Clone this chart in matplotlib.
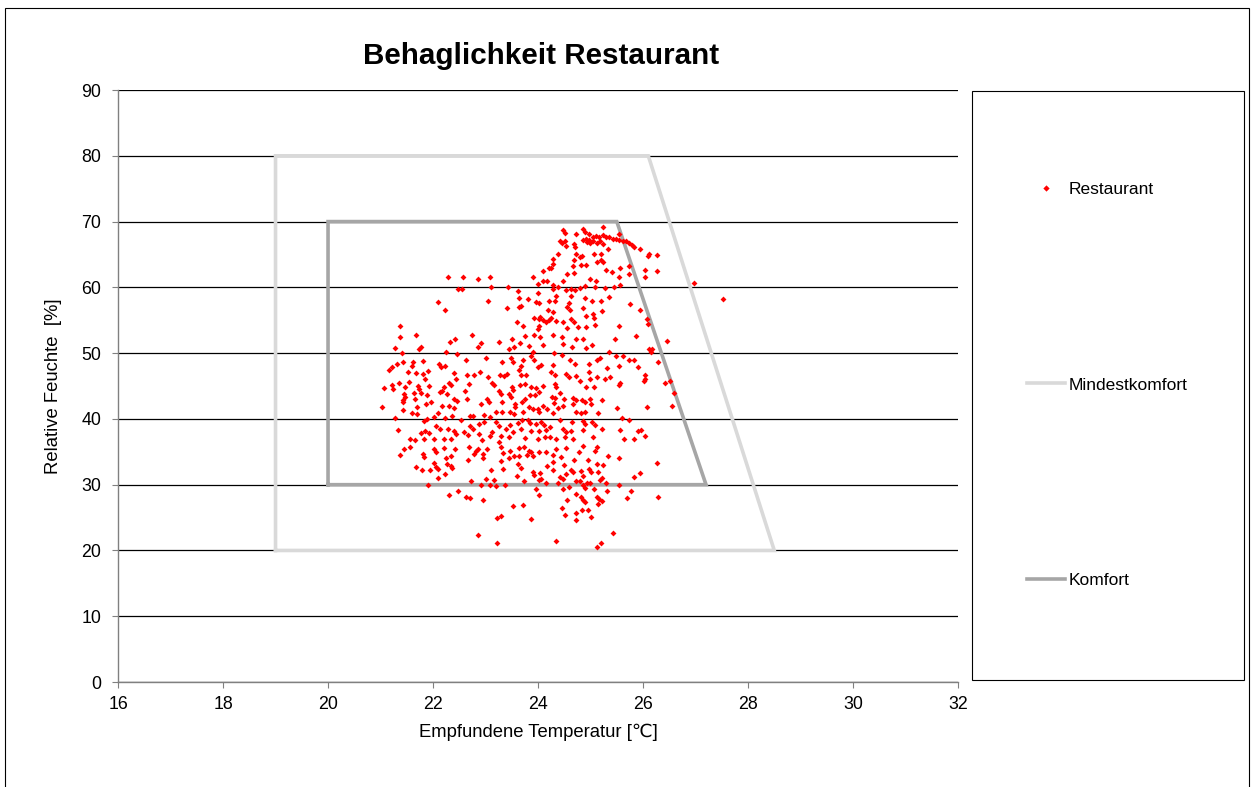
import matplotlib.pyplot as plt
from matplotlib.patches import Rectangle
from matplotlib.lines import Line2D

plt.rcParams['font.family'] = ['Liberation Sans', 'DejaVu Sans']

# comfort zones (temperature, relative humidity)
mindest_t = [19.0, 19.0, 26.1, 28.5, 19.0]
mindest_rh = [20, 80, 80, 20, 20]
komfort_t = [20.0, 20.0, 25.5, 27.2, 20.0]
komfort_rh = [30, 70, 70, 30, 30]

# measured values in the restaurant
restaurant_t = [
    22.29, 22.48, 22.10, 22.22, 21.37,
    22.57, 22.55, 22.85, 23.08, 23.11, 23.05, 23.43, 23.62, 23.64, 23.40, 23.63, 23.68,
    23.81, 23.91, 24.00, 24.09, 24.10, 24.18, 24.21, 23.97, 24.02, 24.00, 24.21, 24.19,
    23.92, 24.04, 24.01, 24.09, 24.15, 23.60, 23.72, 24.01, 23.99, 24.20,
    24.48, 24.51, 24.41, 24.46, 24.51, 24.53, 24.38, 24.72, 24.86, 24.89, 24.97, 25.24,
    24.69, 24.70, 24.91, 24.98, 25.04, 25.10, 25.17, 25.23, 25.30, 25.36, 25.42, 25.49,
    25.55, 25.61, 25.68, 25.74, 25.79, 25.83, 24.99, 25.12, 25.18, 25.24, 24.93, 25.05,
    24.85, 25.55, 24.72, 24.69, 24.79, 24.84, 25.07, 25.19, 25.19, 25.13, 25.24, 25.33,
    25.57, 25.73, 25.40, 25.30, 24.91, 24.81, 24.67, 24.29, 24.28, 24.25, 24.56, 24.69,
    24.47, 24.99, 25.10, 25.54, 25.73, 24.29, 24.38, 24.28, 24.54, 24.62, 24.70, 24.80,
    24.89, 25.09, 25.28, 25.45, 25.57, 24.34, 24.63, 24.89, 25.03, 25.19, 25.35, 25.75,
    24.32, 24.56, 24.61, 24.59, 24.85, 24.91, 25.04, 25.07, 25.22, 24.29, 24.25, 24.35,
    24.48, 24.63, 24.69, 24.76, 24.56, 24.91, 25.09, 25.54,
    25.94, 26.10, 26.12, 26.26, 26.04, 26.27, 26.03, 26.97, 27.53, 26.07, 26.10, 25.94,
    21.37, 21.68, 21.28, 21.73, 21.78, 21.41, 22.32, 22.41, 22.25, 22.46, 21.17, 21.21,
    21.32, 21.42, 21.62, 21.59, 21.80, 22.11, 22.15, 22.23, 21.52, 21.68, 21.80, 21.90,
    21.85, 22.39, 22.44, 21.07, 21.21, 21.24, 21.36, 21.46, 21.55, 21.71, 21.74, 21.92,
    21.64, 21.78, 21.45, 21.42, 21.43, 21.46, 21.66, 21.89, 22.13, 22.21, 22.18, 22.30,
    22.35, 22.27, 22.39, 22.46, 21.97, 21.87, 21.69, 22.17, 22.31, 22.40, 21.02, 21.43,
    21.60, 21.69, 21.83, 21.89, 22.01, 22.10, 21.28, 22.23, 22.37, 21.34, 21.77, 21.84,
    21.92, 22.05, 22.13, 22.29, 22.39, 22.44, 21.56, 21.65, 21.83, 22.01, 22.20, 22.35,
    21.45, 21.56, 21.38, 21.80, 21.83, 22.01, 22.05, 22.21, 22.41, 22.34, 22.25, 21.68,
    21.79, 21.94, 22.01, 22.06, 22.10, 22.27, 22.35, 22.37, 22.23, 22.10, 21.90, 22.30,
    22.48,
    22.68, 22.82, 22.78, 22.86, 22.67, 22.96, 22.96, 23.03, 23.30, 23.30, 23.34, 23.47,
    23.44, 23.55, 23.63, 23.64, 23.73, 23.82, 23.79, 23.86, 23.91, 24.01, 24.15, 24.18,
    23.62, 23.67, 23.91, 23.92, 24.04, 24.06, 23.34, 23.10, 23.60, 23.01, 22.73, 22.91,
    23.09, 23.17, 23.19, 23.38, 23.73, 24.02, 24.15, 23.97, 24.01, 22.63, 22.70, 22.96,
    23.52, 23.72, 23.30, 23.22, 23.87, 22.86, 23.21,
    24.34, 24.53, 24.85, 25.12, 25.09, 24.78, 24.29, 24.43, 24.28, 24.50, 24.69, 24.95,
    25.12, 25.24, 25.33, 25.55, 24.28, 24.62, 24.67, 24.81, 24.98, 25.00, 25.14, 24.41,
    24.53, 24.48, 24.86, 25.21, 25.18, 24.38, 24.59, 24.48, 24.73, 24.80, 24.85, 24.93,
    24.99, 24.90, 25.07, 25.30, 25.55, 25.82, 24.73, 24.82, 24.86, 24.89, 25.12, 25.17,
    25.21, 25.14, 25.32, 25.70, 25.78, 24.56, 24.45, 24.52, 24.72, 24.84, 24.95, 24.73,
    25.00, 25.43, 24.34, 25.19, 25.13,
    26.27, 25.95, 26.29,
    26.45, 26.11, 26.17, 26.16, 26.29, 26.04, 26.03, 26.01, 26.41, 26.51, 26.59, 26.07,
    26.55, 25.97, 26.03,
    22.74, 22.91, 22.86, 23.26, 23.50, 23.45, 23.55, 23.66, 23.76, 23.82, 23.92, 24.04,
    24.09, 23.91, 22.63, 23.01, 23.31, 23.48, 23.52, 23.68, 23.63, 23.72, 23.86, 23.92,
    24.00, 24.06, 22.65, 22.78, 22.90, 23.05, 23.12, 23.17, 23.28, 23.35, 23.40, 23.67,
    23.78, 22.68, 23.50, 23.53, 23.66, 23.76, 23.86, 23.96, 24.09, 24.01, 23.94, 23.85,
    22.60, 23.26, 23.29, 23.44, 23.48, 22.65, 23.02, 23.07, 22.92, 23.32, 23.69, 23.76,
    23.57, 23.57, 23.82, 23.90, 23.99, 24.01, 24.10, 24.18, 23.19, 23.32, 23.47, 23.55,
    23.72, 22.70, 22.77, 22.98, 23.09, 22.54, 22.70, 22.77, 22.88, 22.98, 23.19, 23.26,
    23.39, 23.47, 23.62, 23.69, 23.80, 23.85, 23.96, 24.06, 24.11, 24.15, 24.01, 23.86,
    23.67, 23.52, 23.12, 22.59, 22.67, 22.87, 23.09, 23.30, 23.44, 23.76, 23.99, 24.13,
    22.93, 23.26,
    24.29, 24.46, 24.72, 24.86, 25.47, 25.87, 24.48, 24.65, 24.91, 25.03, 24.30, 24.46,
    24.61, 24.70, 24.98, 25.12, 25.18, 25.35, 25.49, 25.62, 25.74, 25.82, 25.90, 25.54,
    25.31, 24.97, 24.28, 24.25, 24.33, 24.53, 24.59, 24.72, 24.99, 25.13, 25.27, 25.38,
    24.79, 24.33, 24.34, 24.91, 25.07, 25.56, 25.54, 24.42, 24.27, 24.33, 24.50, 24.66,
    24.73, 24.84, 24.90, 24.99, 25.22, 24.30, 24.48, 24.38, 24.66, 24.72, 24.81, 24.90,
    25.01, 25.15, 25.50, 24.28, 24.42, 24.65, 24.85, 24.89, 25.03, 25.08, 25.21, 25.60,
    25.73, 24.23, 24.48, 24.54, 24.63, 24.51, 24.86, 25.05, 24.67, 25.57, 25.64, 25.82,
    25.90, 24.23, 24.34,
]
restaurant_rh = [
    61.5, 59.7, 57.8, 56.6, 54.1,
    61.5, 59.7, 61.2, 61.5, 60.0, 58.0, 60.0, 59.5, 58.4, 56.9, 57.0, 57.1,
    58.3, 61.5, 60.5, 62.5, 61.0, 60.9, 63.0, 57.8, 57.6, 59.2, 57.9, 56.6,
    55.3, 55.5, 55.2, 55.1, 54.8, 54.7, 54.1, 54.2, 53.6, 55.0,
    68.7, 68.2, 67.1, 66.7, 67.0, 66.3, 65.0, 68.1, 68.9, 68.4, 68.1, 69.2,
    66.6, 66.2, 67.4, 67.2, 67.6, 67.8, 67.7, 67.9, 67.7, 67.6, 67.4, 67.3,
    67.2, 67.1, 67.0, 66.8, 66.5, 66.2, 66.7, 66.7, 67.0, 66.6, 66.9, 67.1,
    67.2, 68.1, 65.0, 64.1, 64.6, 64.7, 65.0, 65.0, 64.2, 63.9, 63.9, 65.9,
    63.0, 63.2, 62.4, 62.6, 63.4, 63.4, 63.3, 64.3, 63.6, 63.0, 62.1, 62.2,
    61.0, 61.3, 60.9, 61.5, 62.0, 60.3, 60.1, 59.8, 59.6, 59.7, 59.6, 59.9,
    60.2, 60.1, 59.9, 60.0, 60.3, 58.7, 58.7, 58.4, 58.0, 57.9, 58.6, 57.4,
    57.9, 57.0, 56.6, 57.6, 56.8, 55.7, 55.9, 55.3, 56.4, 56.3, 55.4, 54.9,
    54.7, 55.2, 54.7, 54.0, 53.8, 53.9, 54.3, 54.1,
    65.8, 64.8, 65.0, 64.9, 62.7, 62.5, 61.5, 60.6, 58.2, 55.2, 54.4, 56.5,
    52.4, 52.7, 50.8, 50.7, 50.9, 50.0, 51.7, 52.2, 50.1, 49.9, 47.5, 47.9,
    48.4, 48.6, 48.7, 48.0, 48.8, 48.3, 47.9, 48.1, 47.1, 47.0, 46.9, 47.3,
    46.0, 47.0, 46.1, 44.7, 45.2, 44.5, 45.4, 44.9, 45.6, 45.0, 44.6, 45.0,
    44.0, 43.9, 43.8, 42.9, 42.5, 43.3, 43.1, 43.6, 44.1, 44.8, 44.2, 45.4,
    45.1, 43.8, 43.1, 42.7, 42.5, 42.2, 41.8, 42.0, 42.0, 41.7, 41.8, 41.3,
    40.9, 40.8, 39.7, 40.0, 40.3, 40.9, 40.1, 40.2, 40.5, 38.3, 37.9, 38.2,
    37.8, 38.9, 38.5, 38.4, 38.2, 37.7, 37.0, 36.8, 37.0, 37.0, 37.0, 36.9,
    35.5, 35.7, 34.5, 34.7, 34.2, 35.4, 35.0, 35.6, 35.4, 34.3, 34.1, 32.7,
    32.2, 32.3, 33.3, 32.7, 32.4, 33.1, 32.9, 32.6, 31.6, 31.0, 30.0, 28.4,
    29.1,
    35.8, 35.1, 34.6, 35.5, 33.8, 34.6, 34.1, 35.4, 35.8, 33.6, 34.8, 35.1,
    34.1, 34.3, 34.3, 35.6, 35.7, 35.1, 34.5, 35.0, 34.4, 35.0, 35.0, 32.8,
    33.1, 32.6, 31.9, 31.5, 31.8, 30.9, 32.4, 32.3, 31.3, 30.9, 30.5, 30.0,
    30.0, 30.7, 29.8, 30.0, 30.5, 30.7, 30.2, 29.3, 28.5, 28.1, 27.9, 27.6,
    26.8, 26.9, 25.3, 25.0, 24.8, 22.3, 21.1,
    35.5, 35.6, 35.9, 35.8, 35.1, 35.0, 34.5, 34.2, 33.5, 33.0, 33.8, 33.7,
    33.2, 33.0, 34.4, 34.1, 32.2, 32.3, 32.0, 32.1, 32.4, 31.9, 32.0, 31.2,
    31.6, 30.9, 31.3, 31.0, 30.7, 30.2, 29.6, 29.4, 30.5, 30.6, 30.0, 30.3,
    30.2, 29.5, 29.3, 30.3, 29.9, 31.1, 28.6, 28.1, 27.6, 27.3, 28.1, 27.8,
    27.5, 27.0, 29.0, 28.0, 29.1, 27.7, 26.5, 25.4, 25.7, 26.2, 26.1, 24.7,
    25.1, 22.7, 21.5, 21.2, 20.6,
    33.3, 31.8, 28.1,
    51.8, 50.6, 50.6, 50.2, 48.7, 46.7, 46.0, 45.7, 45.4, 45.8, 43.9, 41.8,
    41.9, 38.3, 37.4,
    52.7, 51.5, 50.9, 51.7, 52.1, 50.7, 50.9, 51.5, 52.6, 51.1, 52.8, 52.5,
    51.2, 50.2, 48.9, 49.2, 48.6, 49.2, 48.6, 48.1, 47.5, 48.9, 49.5, 48.9,
    47.9, 48.2, 46.7, 46.7, 47.1, 46.4, 45.5, 45.1, 46.6, 46.5, 46.9, 46.7,
    46.6, 45.3, 44.9, 44.4, 45.2, 45.3, 44.8, 44.7, 45.0, 44.1, 43.6, 43.7,
    44.2, 44.2, 43.8, 43.8, 43.3, 43.0, 43.1, 42.5, 42.3, 42.6, 42.6, 43.1,
    42.3, 41.8, 41.8, 41.5, 41.5, 41.0, 42.0, 41.5, 41.0, 41.1, 41.1, 40.8,
    41.1, 40.5, 40.5, 40.6, 40.3, 39.8, 38.9, 38.4, 39.3, 39.5, 39.5, 38.9,
    38.5, 39.0, 39.4, 39.9, 39.8, 39.4, 39.2, 39.5, 39.1, 38.3, 38.2, 38.1,
    38.5, 38.0, 38.0, 38.0, 37.5, 37.7, 37.4, 37.4, 37.2, 37.1, 37.0, 37.2,
    36.8, 36.5,
    52.8, 52.5, 52.2, 52.1, 52.2, 52.6, 51.4, 50.9, 50.8, 51.2, 50.0, 49.7,
    48.9, 48.3, 48.4, 48.9, 49.3, 50.1, 49.6, 49.6, 49.0, 48.9, 47.9, 48.0,
    47.8, 47.2, 48.2, 47.1, 46.6, 46.8, 46.3, 46.5, 46.1, 46.4, 46.0, 46.4,
    45.7, 45.3, 44.9, 44.9, 44.8, 45.5, 45.1, 43.9, 43.4, 43.2, 43.1, 43.2,
    42.8, 42.9, 42.6, 43.0, 42.9, 42.4, 42.0, 41.7, 42.2, 41.1, 40.9, 41.0,
    42.2, 40.9, 41.6, 40.9, 39.9, 39.6, 39.7, 39.3, 39.5, 39.0, 38.4, 40.1,
    39.9, 38.7, 38.5, 38.0, 38.1, 37.3, 38.3, 37.2, 36.9, 38.3, 37.0, 36.9,
    38.2, 37.2, 36.9,
]

fig = plt.figure(figsize=(12.53, 7.87), dpi=100)
ax = fig.add_axes([0.0942, 0.1334, 0.6704, 0.7522])

ax.plot(mindest_t, mindest_rh, color='#d9d9d9', lw=2.6, solid_joinstyle='miter', zorder=2)
ax.plot(komfort_t, komfort_rh, color='#a6a6a6', lw=2.6, solid_joinstyle='miter', zorder=3)
ax.plot(restaurant_t, restaurant_rh, 'D', color='red', ms=3.0, mew=0, zorder=4)

ax.set_xlim(16, 32)
ax.set_ylim(0, 90)
ax.set_xticks(range(16, 33, 2))
ax.set_yticks(range(0, 91, 10))
ax.yaxis.grid(True, color='black', lw=0.9)
ax.set_axisbelow(True)
for side in ('top', 'right'):
    ax.spines[side].set_visible(False)
for side in ('left', 'bottom'):
    ax.spines[side].set_color('#808080')
    ax.spines[side].set_linewidth(1.0)
ax.tick_params(direction='out', length=4, color='#808080', labelsize=12.8, pad=8)
ax.tick_params(axis='x', pad=6)

ax.set_xlabel('Empfundene Temperatur [\u2103]', fontsize=13.3, labelpad=8)
ax.set_ylabel('Relative Feuchte  [%]', fontsize=13.3, labelpad=14)
fig.text(0.432, 0.929, 'Behaglichkeit Restaurant', fontsize=21.3, fontweight='bold',
         ha='center', va='center')

# legend box at the right
box = Rectangle((972 / 1253, 107 / 787), 272 / 1253, 589 / 787, transform=fig.transFigure,
                fill=False, edgecolor='black', lw=0.8)
fig.add_artist(box)
handles = [
    Line2D([], [], ls='none', marker='D', color='red', ms=3.2, mew=0),
    Line2D([], [], color='#d9d9d9', lw=2.6),
    Line2D([], [], color='#a6a6a6', lw=2.6),
]
fig.legend(handles, ['Restaurant', 'Mindestkomfort', 'Komfort'], loc='center left',
           bbox_to_anchor=(1011 / 1253, 402 / 787), frameon=False, fontsize=12.5,
           handlelength=2.2, handletextpad=0.2, labelspacing=10.4)

# outer border
fig.add_artist(Rectangle((5 / 1253, -0.02), 1244 / 1253, 0.02 + 779 / 787,
                         transform=fig.transFigure, fill=False, edgecolor='black', lw=0.8))

fig.savefig('out.png', dpi=100)
